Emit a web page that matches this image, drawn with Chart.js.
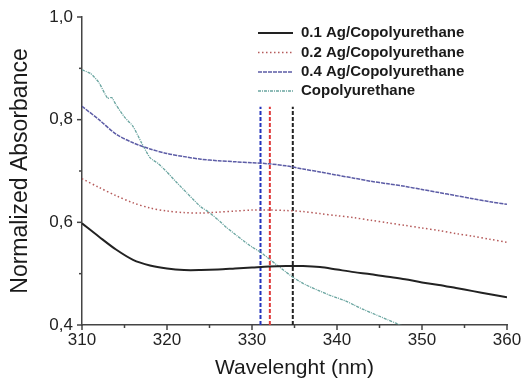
<!DOCTYPE html>
<html>
<head>
<meta charset="utf-8">
<script src="https://cdn.jsdelivr.net/npm/chart.js@4/dist/chart.umd.min.js"></script>
<style>
  html, body { margin: 0; padding: 0; background: #fff; }
</style>
</head>
<body>
<canvas id="absChart" width="522" height="384"></canvas>
<script>
// wavelengths (nm) shared by the Ag samples
var wavelengths = [310, 312, 314, 316, 318, 320, 322, 324, 326, 328, 330, 332, 334,
  336, 338, 340, 342, 344, 346, 348, 350, 352, 354, 356, 358, 360];

var ag01 = [0.598, 0.572, 0.547, 0.527, 0.516, 0.510, 0.507, 0.507, 0.508, 0.510, 0.512, 0.514, 0.515,
  0.515, 0.513, 0.508, 0.503, 0.499, 0.494, 0.489, 0.483, 0.478, 0.472, 0.466, 0.460, 0.454];
var ag02 = [0.685, 0.668, 0.652, 0.638, 0.628, 0.622, 0.619, 0.618, 0.620, 0.622, 0.624, 0.624, 0.623,
  0.621, 0.617, 0.613, 0.609, 0.604, 0.599, 0.594, 0.589, 0.584, 0.578, 0.573, 0.567, 0.561];
var ag04 = [0.826, 0.800, 0.772, 0.755, 0.743, 0.734, 0.728, 0.723, 0.720, 0.718, 0.716, 0.714, 0.710,
  0.704, 0.698, 0.692, 0.686, 0.680, 0.675, 0.670, 0.664, 0.658, 0.652, 0.646, 0.640, 0.635];

// pure copolyurethane, sampled more finely (noisy trace)
var cpuWavelengths = [310, 311, 312, 313, 313.5, 314, 315, 316, 317, 318, 319, 320, 321, 322, 323, 324,
  325, 326, 327, 328, 329, 330, 331, 332, 333, 334, 335, 336, 337, 338, 339, 340, 341, 342, 343, 344,
  345, 346, 347, 348];
var cpu = [0.897, 0.890, 0.872, 0.842, 0.843, 0.829, 0.805, 0.787, 0.755, 0.726, 0.714, 0.698, 0.680,
  0.663, 0.646, 0.630, 0.619, 0.605, 0.590, 0.577, 0.564, 0.552, 0.542, 0.529, 0.516, 0.503, 0.491,
  0.481, 0.473, 0.466, 0.459, 0.453, 0.447, 0.439, 0.431, 0.424, 0.417, 0.410, 0.403, 0.396];

// peak markers (nm): blue, red, black dashed verticals
var peakWavelengths = [331.0, 332.1, 334.8];
var peakRange = [0.4, 0.825];

var seriesNames = ["0.1 Ag/Copolyurethane", "0.2 Ag/Copolyurethane", "0.4 Ag/Copolyurethane", "Copolyurethane"];

var FONT = "'Liberation Sans', Arial, sans-serif";

function toPoints(xs, ys) {
  return xs.map(function (x, i) { return { x: x, y: ys[i] }; });
}

function peakLine(x, color) {
  return {
    data: [{ x: x, y: peakRange[0] }, { x: x, y: peakRange[1] }],
    borderColor: color,
    borderWidth: 2,
    borderDash: [4, 2],
    pointRadius: 0,
    isPeak: true
  };
}

// Origin-style outward major/minor ticks + legend in the top right corner
var originDecor = {
  id: "originDecor",
  afterDraw: function (chart) {
    var ctx = chart.ctx;
    var xs = chart.scales.x, ys = chart.scales.y;
    var area = chart.chartArea;
    ctx.save();
    ctx.strokeStyle = "#444";
    ctx.lineWidth = 1.5;
    for (var v = 310; v <= 360; v += 5) {
      var px = xs.getPixelForValue(v);
      var len = v % 10 === 0 ? 5 : 3;
      ctx.beginPath();
      ctx.moveTo(px, area.bottom);
      ctx.lineTo(px, area.bottom + len);
      ctx.stroke();
    }
    for (var k = 4; k <= 10; k++) {
      var py = ys.getPixelForValue(k / 10);
      var lenY = k % 2 === 0 ? 5 : 3;
      ctx.beginPath();
      ctx.moveTo(area.left, py);
      ctx.lineTo(area.left - lenY, py);
      ctx.stroke();
    }

    // legend
    var rowsY = [33, 52.5, 72, 91];
    ctx.font = "bold 15px " + FONT;
    ctx.textBaseline = "middle";
    ctx.fillStyle = "#1a1a1a";
    chart.data.datasets.forEach(function (ds, i) {
      if (ds.isPeak) return;
      var y = rowsY[i];
      ctx.save();
      ctx.strokeStyle = ds.borderColor;
      ctx.lineWidth = ds.borderWidth;
      ctx.setLineDash(ds.borderDash || []);
      ctx.beginPath();
      ctx.moveTo(258, y);
      ctx.lineTo(293, y);
      ctx.stroke();
      ctx.restore();
      ctx.fillText(ds.label, 301, y);
    });
    ctx.restore();
  }
};

var ctx = document.getElementById("absChart").getContext("2d");
var chart = new Chart(ctx, {
  type: "line",
  data: {
    datasets: [
      {
        label: seriesNames[0],
        data: toPoints(wavelengths, ag01),
        borderColor: "#222222",
        borderWidth: 2,
        borderDash: [],
        tension: 0.3,
        pointRadius: 0
      },
      {
        label: seriesNames[1],
        data: toPoints(wavelengths, ag02),
        borderColor: "#b55a5a",
        borderWidth: 1.5,
        borderDash: [1.5, 2.5],
        tension: 0.3,
        pointRadius: 0
      },
      {
        label: seriesNames[2],
        data: toPoints(wavelengths, ag04),
        borderColor: "#5c5ca6",
        borderWidth: 1.5,
        borderDash: [4, 1],
        tension: 0.3,
        pointRadius: 0
      },
      {
        label: seriesNames[3],
        data: toPoints(cpuWavelengths, cpu),
        borderColor: "#6aa5a0",
        borderWidth: 1.3,
        borderDash: [3, 1, 1, 1],
        tension: 0.2,
        pointRadius: 0
      },
      peakLine(peakWavelengths[0], "#2233bb"),
      peakLine(peakWavelengths[1], "#e03a3a"),
      peakLine(peakWavelengths[2], "#222222")
    ]
  },
  options: {
    responsive: false,
    animation: false,
    layout: { padding: { top: 17, right: 15, bottom: 0, left: 0 } },
    plugins: {
      legend: { display: false },
      tooltip: { enabled: false }
    },
    scales: {
      x: {
        type: "linear",
        min: 310,
        max: 360,
        grid: { display: false, drawTicks: false },
        border: { display: true, color: "#444", width: 1.5 },
        ticks: {
          stepSize: 10,
          padding: 5,
          color: "#222",
          font: { family: FONT, size: 17 }
        },
        title: {
          display: true,
          text: "Wavelenght (nm)",
          color: "#1a1a1a",
          font: { family: FONT, size: 21 },
          padding: { top: 0, bottom: 3 }
        },
        afterFit: function (scale) {
          scale.height = 59;
          scale.paddingLeft = 0;
          scale.paddingRight = 0;
        }
      },
      y: {
        min: 0.4,
        max: 1.0,
        grid: { display: false, drawTicks: false },
        border: { display: true, color: "#444", width: 1.5 },
        ticks: {
          stepSize: 0.2,
          padding: 9,
          color: "#222",
          font: { family: FONT, size: 17 },
          callback: function (value) { return value.toFixed(1).replace(".", ","); }
        },
        title: {
          display: true,
          text: "Normalized Absorbance",
          color: "#1a1a1a",
          font: { family: FONT, size: 23 },
          padding: { top: 7, bottom: 0 }
        },
        afterFit: function (scale) {
          scale.width = 82;
          scale.paddingTop = 0;
          scale.paddingBottom = 0;
        }
      }
    }
  },
  plugins: [originDecor]
});
</script>
</body>
</html>
